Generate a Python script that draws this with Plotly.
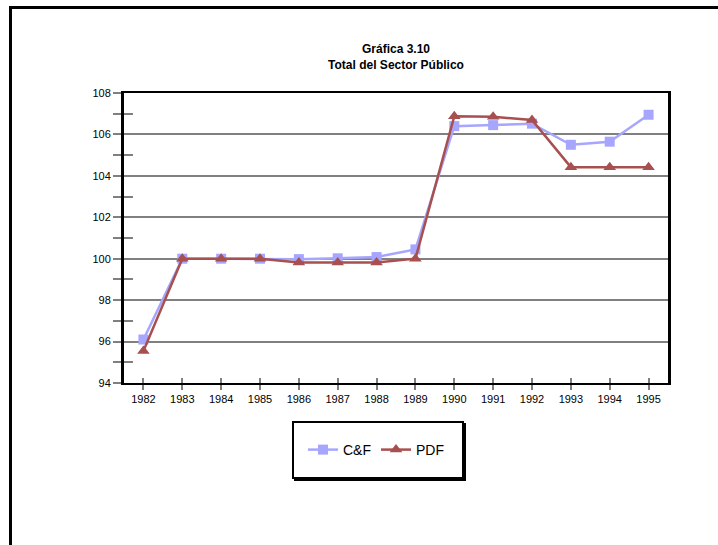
import plotly.graph_objects as go

# Data
years = [1982, 1983, 1984, 1985, 1986, 1987, 1988, 1989, 1990, 1991, 1992, 1993, 1994, 1995]
cf = [96.1, 100.0, 100.0, 100.0, 99.98, 100.02, 100.08, 100.45, 106.4, 106.45, 106.52, 105.5, 105.65, 106.95]
pdf = [95.55, 100.0, 100.0, 100.0, 99.82, 99.82, 99.82, 100.0, 106.88, 106.85, 106.7, 104.42, 104.42, 104.42]

W, H = 718, 545
L, R, T, B = 124, 668, 93, 383  # plot area in pixels


def px_x(p):
    return (p - L) / (R - L)


def px_y(p):
    return (B - p) / (B - T)


fig = go.Figure()

fig.add_trace(go.Scatter(
    x=years, y=cf, name='C&F', mode='lines+markers',
    line=dict(color='#A6A6FF', width=2.5),
    marker=dict(symbol='square', size=10, color='#A6A6FF')))
fig.add_trace(go.Scatter(
    x=years, y=pdf, name='PDF', mode='lines+markers',
    line=dict(color='#A84F4F', width=2.5),
    marker=dict(symbol='triangle-up', size=11, color='#A84F4F')))

# invisible helper trace so the overlay axes (crossing ticks) are drawn
fig.add_trace(go.Scatter(
    x=years, y=cf, xaxis='x2', yaxis='y2', mode='lines',
    line=dict(width=0), opacity=0, showlegend=False, hoverinfo='skip'))

font = 'Liberation Sans, Arial, sans-serif'

fig.update_layout(
    width=W, height=H, autosize=False,
    margin=dict(l=L, r=W - R, t=T, b=H - B),
    paper_bgcolor='white', plot_bgcolor='white',
    font=dict(family=font, size=11, color='black'),
    title=dict(text='<b>Gráfica 3.10</b><br><b>Total del Sector Público</b>',
               x=px_x(396), xref='paper', xanchor='center',
               y=1 - 53 / H, yref='container', yanchor='middle',
               font=dict(family=font, size=12, color='black')),
    xaxis=dict(range=[1981.5, 1995.5], tickvals=years, ticktext=[str(y) for y in years],
               showgrid=False, zeroline=False,
               showline=True, linecolor='black', linewidth=2, mirror=True,
               ticks='outside', ticklen=5, tickwidth=2, tickcolor='#808080',
               tickfont=dict(size=11)),
    yaxis=dict(range=[94, 108], dtick=2, tick0=94,
               showgrid=True, gridcolor='#808080', gridwidth=2, zeroline=False,
               showline=True, linecolor='black', linewidth=3, mirror=True,
               ticks='outside', ticklen=8, tickwidth=2, tickcolor='#808080',
               minor=dict(dtick=1, ticks='outside', ticklen=8, tickwidth=2,
                          tickcolor='#808080', showgrid=False),
               tickfont=dict(size=11)),
    xaxis2=dict(range=[1981.5, 1995.5], tickvals=years, overlaying='x', anchor='y',
                side='bottom', showticklabels=False, showgrid=False, zeroline=False,
                showline=False, ticks='inside', ticklen=5, tickwidth=2, tickcolor='#808080'),
    yaxis2=dict(range=[94, 108], dtick=1, tick0=94, overlaying='y', anchor='x',
                side='left', showticklabels=False, showgrid=False, zeroline=False,
                showline=False, ticks='inside', ticklen=9, tickwidth=2, tickcolor='#808080'),
    legend=dict(orientation='h', x=px_x(376), xanchor='center',
                y=px_y(450), yanchor='middle', bgcolor='rgba(0,0,0,0)',
                borderwidth=0, font=dict(family=font, size=14, color='black')),
    showlegend=True,
)

# outer frame (left and top edges) and legend box with shadow
shapes = [
    dict(type='line', xref='paper', yref='paper', x0=px_x(10.5), x1=px_x(10.5),
         y0=px_y(6), y1=px_y(H + 2), line=dict(color='black', width=3), layer='above'),
    dict(type='line', xref='paper', yref='paper', x0=px_x(9), x1=px_x(W + 2),
         y0=px_y(7.5), y1=px_y(7.5), line=dict(color='black', width=3), layer='above'),
    dict(type='rect', xref='paper', yref='paper', x0=px_x(295), x1=px_x(465),
         y0=px_y(424), y1=px_y(480), line=dict(color='black', width=2),
         fillcolor='black', layer='above'),
    dict(type='rect', xref='paper', yref='paper', x0=px_x(293), x1=px_x(463),
         y0=px_y(422), y1=px_y(478), line=dict(color='black', width=2),
         fillcolor='white', layer='above'),
]
fig.update_layout(shapes=shapes)

# remove the default page margin so the figure sits at the window origin
fig.write_html("out.html", config={'displayModeBar': False},
               post_script="document.body.style.margin='0';")
